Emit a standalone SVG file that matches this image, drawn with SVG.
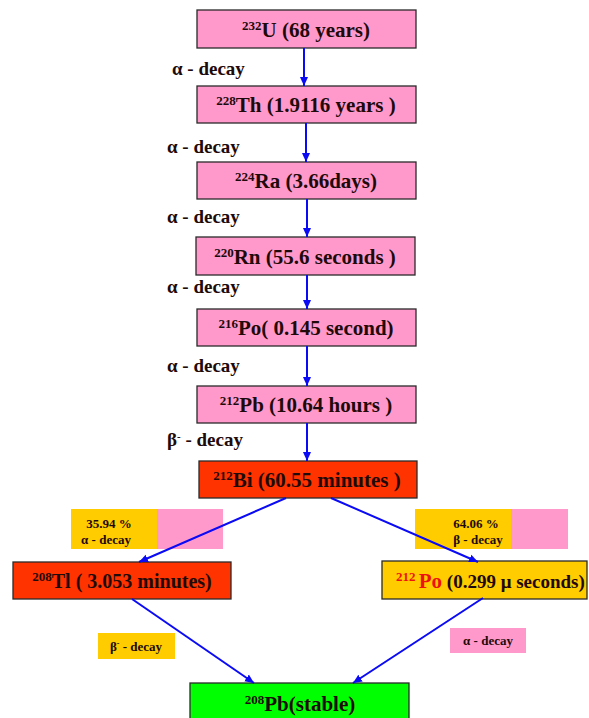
<svg xmlns="http://www.w3.org/2000/svg" width="589" height="718" viewBox="0 0 589 718">
<style>
.box{stroke:#2a2a2a;stroke-width:1.3}
.pink{fill:#ff99cc}
.red{fill:#ff3300}
.gold{fill:#ffcc00}
.green{fill:#00ff00}
.t{font-family:"Liberation Serif","Times New Roman",serif;font-weight:bold;fill:#1e0a0a}
.n{font-size:21px;text-anchor:middle}
.sup{font-size:13px}
.lab{font-size:19px}
.sm{font-size:13px}
.conn{stroke:#0a0af5;stroke-width:2;fill:none}
</style>
<defs>
<marker id="ah" markerWidth="10" markerHeight="10" refX="9" refY="5" orient="auto" markerUnits="userSpaceOnUse">
<path d="M0,1 L9,5 L0,9 Z" fill="#0a0af5"/>
</marker>
</defs>
<rect width="589" height="718" fill="#ffffff"/>

<g id="lbl-split-left">
<rect x="71" y="509" width="86" height="40" class="gold"/>
<rect x="157" y="509" width="66" height="40" class="pink"/>
<text class="t sm" x="109" y="528" text-anchor="middle">35.94 %</text>
<text class="t sm" x="106" y="544" text-anchor="middle">α - decay</text>
</g>
<g id="lbl-split-right">
<rect x="415" y="509" width="96" height="40" class="gold"/>
<rect x="511" y="509" width="57" height="40" class="pink"/>
<text class="t sm" x="476" y="528" text-anchor="middle">64.06 %</text>
<text class="t sm" x="478" y="544" text-anchor="middle">β - decay</text>
</g>
<g id="lbl-beta-bottom">
<rect x="98" y="633" width="77" height="26" class="gold"/>
<text class="t sm" x="136" y="651" text-anchor="middle">β<tspan font-size="8" dy="-5">-</tspan><tspan dy="5"> - decay</tspan></text>
</g>
<g id="lbl-alpha-bottom">
<rect x="450" y="628" width="76" height="25" class="pink"/>
<text class="t sm" x="488" y="645" text-anchor="middle">α - decay</text>
</g>

<g id="labels">
<text class="t lab" x="172" y="75">α - decay</text>
<text class="t lab" x="167" y="153">α - decay</text>
<text class="t lab" x="167" y="223">α - decay</text>
<text class="t lab" x="167" y="293">α - decay</text>
<text class="t lab" x="167" y="372">α - decay</text>
<text class="t lab" x="167" y="446">β<tspan font-size="11" dy="-6">-</tspan><tspan dy="6"> - decay</tspan></text>
</g>

<g id="n-u232">
<rect x="197" y="10" width="219" height="38" class="box pink"/>
<text class="t n" x="306" y="37"><tspan class="sup" dy="-7">232</tspan><tspan dy="7">U (68 years)</tspan></text>
</g>
<g id="n-th228">
<rect x="197" y="86" width="219" height="37" class="box pink"/>
<text class="t n" x="306" y="112"><tspan class="sup" dy="-7">228</tspan><tspan dy="7">Th (1.9116 years )</tspan></text>
</g>
<g id="n-ra224">
<rect x="197" y="162" width="219" height="37" class="box pink"/>
<text class="t n" x="306" y="188"><tspan class="sup" dy="-7">224</tspan><tspan dy="7">Ra (3.66days)</tspan></text>
</g>
<g id="n-rn220">
<rect x="196" y="237" width="219" height="38" class="box pink"/>
<text class="t n" x="305" y="264"><tspan class="sup" dy="-7">220</tspan><tspan dy="7">Rn (55.6 seconds )</tspan></text>
</g>
<g id="n-po216">
<rect x="197" y="309" width="219" height="37" class="box pink"/>
<text class="t n" x="306" y="335"><tspan class="sup" dy="-7">216</tspan><tspan dy="7">Po( 0.145 second)</tspan></text>
</g>
<g id="n-pb212">
<rect x="197" y="386" width="219" height="37" class="box pink"/>
<text class="t n" x="306" y="412"><tspan class="sup" dy="-7">212</tspan><tspan dy="7">Pb (10.64 hours )</tspan></text>
</g>
<g id="n-bi212">
<rect x="199" y="461" width="218" height="37" class="box red"/>
<text class="t n" x="307" y="487"><tspan class="sup" dy="-7">212</tspan><tspan dy="7">Bi (60.55 minutes )</tspan></text>
</g>
<g id="n-tl208">
<rect x="13" y="562" width="218" height="37" class="box red"/>
<text class="t n" x="122" y="588" style="font-size:20px"><tspan class="sup" dy="-7">208</tspan><tspan dy="7">Tl ( 3.053 minutes)</tspan></text>
</g>
<g id="n-po212">
<rect x="382" y="561" width="205" height="38" class="box gold"/>
<text class="t" x="396" y="588" font-size="21"><tspan font-size="13" dy="-7" fill="#ee1111">212 </tspan><tspan dy="7" fill="#ee1111">Po</tspan><tspan font-size="19"> (0.299 μ seconds)</tspan></text>
</g>
<g id="n-pb208">
<rect x="190" y="683" width="219" height="40" class="box green"/>
<text class="t n" x="300" y="711"><tspan class="sup" dy="-7">208</tspan><tspan dy="7">Pb(stable)</tspan></text>
</g>

<g id="connectors">
<line class="conn" x1="304" y1="48" x2="304" y2="86" marker-end="url(#ah)"/>
<line class="conn" x1="306" y1="123" x2="306" y2="162" marker-end="url(#ah)"/>
<line class="conn" x1="307" y1="199" x2="307" y2="237" marker-end="url(#ah)"/>
<line class="conn" x1="307" y1="275" x2="307" y2="309" marker-end="url(#ah)"/>
<line class="conn" x1="307" y1="346" x2="307" y2="386" marker-end="url(#ah)"/>
<line class="conn" x1="307" y1="423" x2="307" y2="461" marker-end="url(#ah)"/>
<line class="conn" x1="286" y1="498" x2="139" y2="562" marker-end="url(#ah)"/>
<line class="conn" x1="331" y1="498" x2="478" y2="562" marker-end="url(#ah)"/>
<line class="conn" x1="132" y1="599" x2="254" y2="683" marker-end="url(#ah)"/>
<line class="conn" x1="483" y1="598" x2="353" y2="683" marker-end="url(#ah)"/>
</g>
</svg>
